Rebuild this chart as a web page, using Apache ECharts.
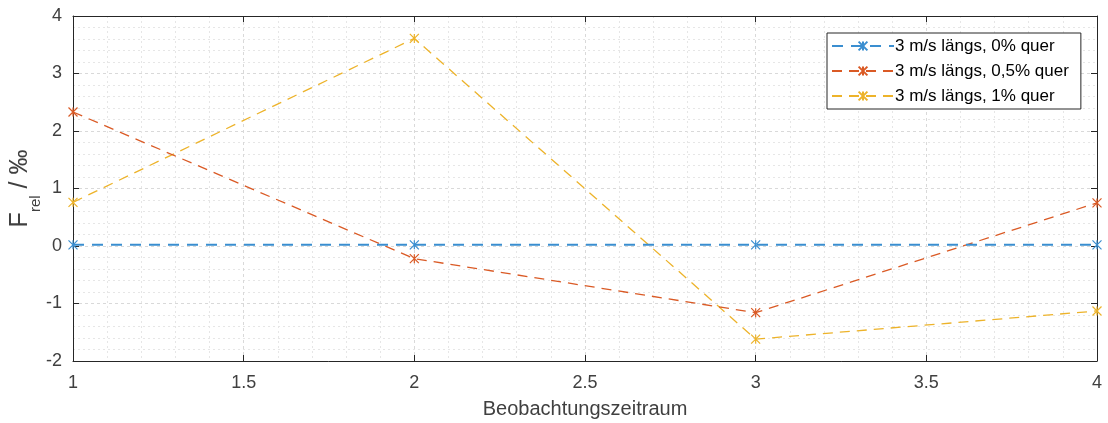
<!DOCTYPE html>
<html>
<head>
<meta charset="utf-8">
<script src="https://cdn.jsdelivr.net/npm/echarts@6/dist/echarts.min.js"></script>
<style>
  html, body { margin: 0; padding: 0; background: #fff; }
  #chart { width: 1108px; height: 423px; }
</style>
</head>
<body>
<div id="chart"></div>
<script>
// Observation periods and relative force deviation per configuration (‰)
const periods = [1, 2, 3, 4];
const seriesNames = ['3 m/s längs, 0% quer', '3 m/s längs, 0,5% quer', '3 m/s längs, 1% quer'];
const quer0 = [0.02, 0.02, 0.02, 0.02];
const quer05 = [2.33, -0.22, -1.16, 0.75];
const quer1 = [0.76, 3.61, -1.62, -1.13];
const xTicks = [1, 1.5, 2, 2.5, 3, 3.5, 4];
const yTicks = [-2, -1, 0, 1, 2, 3, 4];

const colors = ['#3a8ed0', '#DA5A25', '#EDB32A'];
const widths = [2, 1.3, 1.3];
const dashes = [[11, 8], [10, 7], [10, 7]];
const allValues = [quer0, quer05, quer1];

// asterisk marker (x plus +)
const star = 'path://M0,0L10,10M10,0L0,10M5,0L5,10';

const font = 'Liberation Sans, Arial, Helvetica, sans-serif';
const axisCol = '#262626';
const labelCol = '#404040';

function pairs(vals) { return periods.map((p, i) => [p, vals[i]]); }

const chart = echarts.init(document.getElementById('chart'), null, { renderer: 'canvas' });

const baseX = {
  type: 'value', min: xTicks[0], max: xTicks[xTicks.length - 1], interval: 0.5,
  axisLine: { show: true, onZero: false, lineStyle: { color: axisCol, width: 1 } },
  axisTick: { show: true, inside: true, length: 6, lineStyle: { color: axisCol } },
};
const baseY = {
  type: 'value', min: yTicks[0], max: yTicks[yTicks.length - 1], interval: 1,
  axisLine: { show: true, onZero: false, lineStyle: { color: axisCol, width: 1 } },
  axisTick: { show: true, inside: true, length: 6, lineStyle: { color: axisCol } },
};

chart.setOption({
  animation: false,
  backgroundColor: '#fff',
  grid: { left: 73, right: 11, top: 16, bottom: 62, containLabel: false, outerBoundsMode: 'none' },
  legend: {
    orient: 'vertical',
    left: 827, top: 33,
    data: seriesNames,
    backgroundColor: '#fff',
    borderColor: '#262626', borderWidth: 1,
    padding: [3, 12, 3, 4],
    itemGap: 5,
    itemWidth: 62, itemHeight: 11,
    textStyle: { fontFamily: font, fontSize: 17, lineHeight: 20, color: '#000', padding: [0, 0, 0, -4] },
  },
  xAxis: [
    Object.assign({}, baseX, {
      position: 'bottom',
      name: 'Beobachtungszeitraum', nameLocation: 'middle', nameGap: 38, nameMoveOverlap: false,
      nameTextStyle: { fontFamily: font, fontSize: 20, color: labelCol },
      axisLabel: { show: true, margin: 13, fontFamily: font, fontSize: 18, color: labelCol,
        formatter: v => String(v) },
      splitLine: { show: true, lineStyle: { color: '#d9d9d9', type: [3, 3], width: 1 } },
      minorTick: { show: false, splitNumber: 5 },
      minorSplitLine: { show: true, lineStyle: { color: '#e6e6e6', type: [2, 3], width: 1 } },
    }),
    Object.assign({}, baseX, {
      position: 'top',
      axisLabel: { show: false },
      splitLine: { show: false },
    }),
  ],
  yAxis: [
    Object.assign({}, baseY, {
      position: 'left',
      name: '{f|F}{s|rel}{f| / ‰}', nameLocation: 'middle', nameGap: 40, nameRotate: 90,
      nameMoveOverlap: false,
      nameTextStyle: {
        color: labelCol,
        rich: {
          f: { fontFamily: font, fontSize: 25, color: labelCol },
          s: { fontFamily: font, fontSize: 15, color: labelCol, verticalAlign: 'bottom', padding: [0, 0, -10, 0] },
        },
      },
      axisLabel: { show: true, margin: 11, fontFamily: font, fontSize: 18, color: labelCol },
      splitLine: { show: true, lineStyle: { color: '#d9d9d9', type: [3, 3], width: 1 } },
      minorTick: { show: false, splitNumber: 5 },
      minorSplitLine: { show: true, lineStyle: { color: '#e6e6e6', type: [2, 3], width: 1 } },
    }),
    Object.assign({}, baseY, {
      position: 'right',
      axisLabel: { show: false },
      splitLine: { show: false },
    }),
  ],
  series: seriesNames.map((name, i) => ({
    name: name,
    type: 'line',
    xAxisIndex: 0, yAxisIndex: 0,
    data: pairs(allValues[i]),
    symbol: star,
    symbolSize: 9,
    showAllSymbol: true,
    clip: false,
    z: 3 + (2 - i),
    lineStyle: { color: colors[i], width: widths[i], type: dashes[i] },
    itemStyle: { color: colors[i], borderColor: colors[i], borderWidth: 1.2 },
    emphasis: { disabled: true },
  })),
});
</script>
</body>
</html>
